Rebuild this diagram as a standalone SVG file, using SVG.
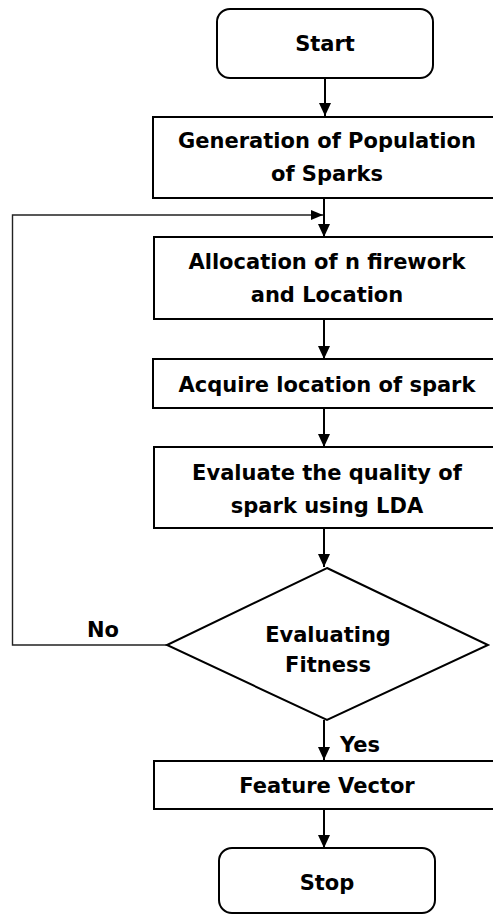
<svg xmlns="http://www.w3.org/2000/svg" width="493" height="915" viewBox="0 0 493 915">
<style>
.box{fill:#fff;stroke:#000;stroke-width:2}
.t{font-family:"DejaVu Sans",Verdana,sans-serif;font-weight:bold;font-size:21px;fill:#000;text-anchor:middle}
.c{fill:none;stroke:#000;stroke-width:2}
.thin{fill:none;stroke:#222;stroke-width:1.4}
</style>
<defs>
<marker id="ah" markerUnits="userSpaceOnUse" markerWidth="14" markerHeight="14" refX="13" refY="6" orient="auto">
<path d="M0,0 L13,6 L0,12 Z" fill="#000"/>
</marker>
<marker id="ah2" markerUnits="userSpaceOnUse" markerWidth="14" markerHeight="12" refX="12" refY="5" orient="auto">
<path d="M0,0 L12,5 L0,10 Z" fill="#000"/>
</marker>
</defs>
<g id="connectors">
<line class="c" x1="325" y1="78" x2="325" y2="116" marker-end="url(#ah)"/>
<line class="c" x1="324" y1="198" x2="324" y2="237" marker-end="url(#ah)"/>
<polyline class="thin" points="167,645 12.5,645 12.5,215 323,215" marker-end="url(#ah2)"/>
<line class="c" x1="324" y1="319" x2="324" y2="359" marker-end="url(#ah)"/>
<line class="c" x1="324" y1="408" x2="324" y2="447" marker-end="url(#ah)"/>
<line class="c" x1="324" y1="528" x2="324" y2="567" marker-end="url(#ah)"/>
<line class="c" x1="324" y1="720" x2="324" y2="760" marker-end="url(#ah)"/>
<line class="c" x1="324" y1="809" x2="324" y2="848" marker-end="url(#ah)"/>
<text class="t" x="103" y="637">No</text>
<text class="t" x="360" y="752">Yes</text>
</g>
<g id="start">
<rect class="box" x="217" y="9" width="216" height="69" rx="13"/>
<text class="t" x="325" y="51">Start</text>
</g>
<g id="generation">
<rect class="box" x="153" y="117" width="345" height="81"/>
<text class="t" x="327" y="148">Generation of Population</text>
<text class="t" x="327" y="181">of Sparks</text>
</g>
<g id="allocation">
<rect class="box" x="154" y="237" width="344" height="82"/>
<text class="t" x="327" y="269">Allocation of n firework</text>
<text class="t" x="327" y="302">and Location</text>
</g>
<g id="acquire">
<rect class="box" x="153" y="359" width="345" height="49"/>
<text class="t" x="327" y="392">Acquire location of spark</text>
</g>
<g id="evaluate">
<rect class="box" x="154" y="447" width="344" height="81"/>
<text class="t" x="327" y="480">Evaluate the quality of</text>
<text class="t" x="327" y="513">spark using LDA</text>
</g>
<g id="fitness">
<polygon class="box" points="327,568 488,645 327,720 167,645"/>
<text class="t" x="328" y="642">Evaluating</text>
<text class="t" x="328" y="672">Fitness</text>
</g>
<g id="feature">
<rect class="box" x="154" y="761" width="344" height="48"/>
<text class="t" x="327" y="793">Feature Vector</text>
</g>
<g id="stop">
<rect class="box" x="219" y="848" width="216" height="65" rx="13"/>
<text class="t" x="327" y="890">Stop</text>
</g>
</svg>
